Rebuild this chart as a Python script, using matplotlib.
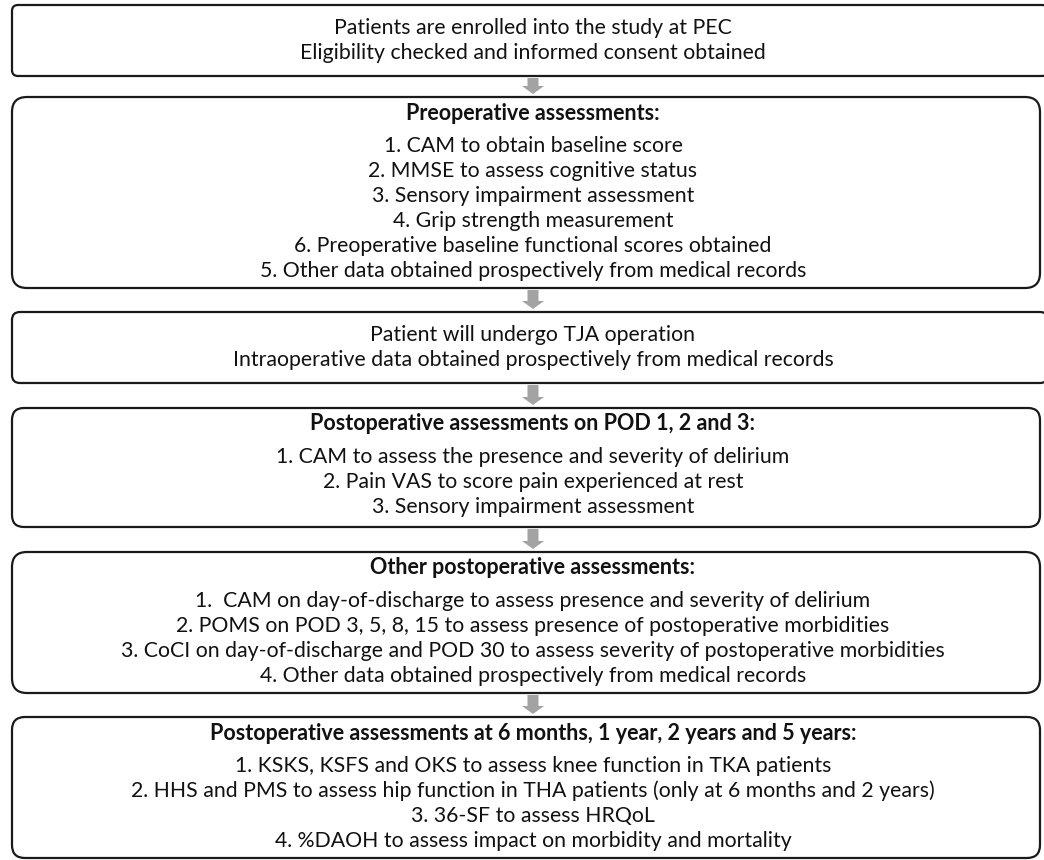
import matplotlib.pyplot as plt
from matplotlib.patches import FancyBboxPatch, FancyArrow

plt.rcParams['font.family'] = ['Lato', 'DejaVu Sans']

# box contents (title, lines)
enrol_lines = ["Patients are enrolled into the study at PEC",
               "Eligibility checked and informed consent obtained"]

preop_title = "Preoperative assessments:"
preop_lines = ["1. CAM to obtain baseline score",
               "2. MMSE to assess cognitive status",
               "3. Sensory impairment assessment",
               "4. Grip strength measurement",
               "6. Preoperative baseline functional scores obtained",
               "5. Other data obtained prospectively from medical records"]

op_lines = ["Patient will undergo TJA operation",
            "Intraoperative data obtained prospectively from medical records"]

pod_title = "Postoperative assessments on POD 1, 2 and 3:"
pod_lines = ["1. CAM to assess the presence and severity of delirium",
             "2. Pain VAS to score pain experienced at rest",
             "3. Sensory impairment assessment"]

other_title = "Other postoperative assessments:"
other_lines = ["1.  CAM on day-of-discharge to assess presence and severity of delirium",
               "2. POMS on POD 3, 5, 8, 15 to assess presence of postoperative morbidities",
               "3. CoCI on day-of-discharge and POD 30 to assess severity of postoperative morbidities",
               "4. Other data obtained prospectively from medical records"]

long_title = "Postoperative assessments at 6 months, 1 year, 2 years and 5 years:"
long_lines = ["1. KSKS, KSFS and OKS to assess knee function in TKA patients",
              "2. HHS and PMS to assess hip function in THA patients (only at 6 months and 2 years)",
              "3. 36-SF to assess HRQoL",
              "4. %DAOH to assess impact on morbidity and mortality"]

# (title, lines, top, bottom, right, corner radius)
boxes = [
    (None, enrol_lines, 5, 76, 1048, 6),
    (preop_title, preop_lines, 97, 288, 1040, 15),
    (None, op_lines, 312, 383, 1048, 8),
    (pod_title, pod_lines, 408, 527, 1040, 12),
    (other_title, other_lines, 552, 693, 1040, 15),
    (long_title, long_lines, 717, 858, 1040, 13),
]

W, H = 1044, 860
fig = plt.figure(figsize=(W / 100, H / 100), dpi=100)
ax = fig.add_axes([0, 0, 1, 1])
ax.set_xlim(0, W)
ax.set_ylim(H, 0)
ax.axis('off')

x0 = 12
xc = 533
fs = 15.3
step = 25

for i, (title, lines, top, bot, x1, r) in enumerate(boxes):
    ax.add_patch(FancyBboxPatch((x0, top), x1 - x0, bot - top,
                                boxstyle=f"round,pad=0,rounding_size={r}",
                                fc='white', ec='#1a1a1a', lw=1.6))
    if title:
        ax.text(xc, top + 16, title, ha='center', va='center',
                fontsize=15.5, fontweight='bold', color='#111111')
        y = top + 49
    else:
        y = (top + bot) / 2 - step * (len(lines) - 1) / 2
    for ln in lines:
        ax.text(xc, y, ln, ha='center', va='center', fontsize=fs, color='#111111')
        y += step
    if i < len(boxes) - 1:
        nxt = boxes[i + 1][2]
        ax.add_patch(FancyArrow(xc, bot + 2, 0, nxt - bot - 5, width=11,
                                head_width=22, head_length=8,
                                length_includes_head=True,
                                fc='#a3a3a3', ec='none'))

fig.savefig("out.png", dpi=100)
